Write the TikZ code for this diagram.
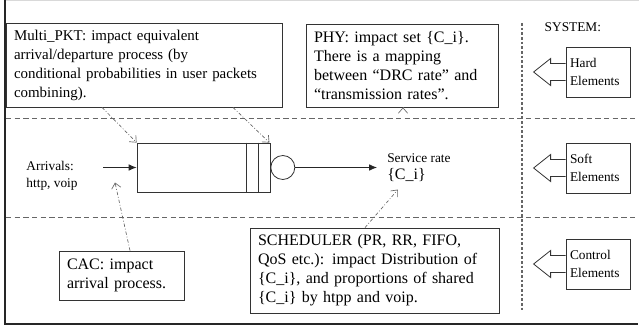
\documentclass[tikz,border=0pt]{standalone}
\usepackage{fontspec}
\setmainfont{Liberation Serif}
\usepackage{tikz}
\usetikzlibrary{arrows.meta, positioning, calc}
\hyphenpenalty=10000

\begin{document}
\begin{tikzpicture}[
    x=0.75pt, y=-0.75pt,
    note/.style={draw=black!80, line width=0.6pt, align=left, inner xsep=6pt,
                 text width=#1, font=\fontsize{12}{14.25}\selectfont},
    elem/.style={draw=black!80, line width=0.6pt, align=left, inner xsep=3pt,
                 text width=42pt, minimum height=37.5pt, font=\fontsize{10}{13}\selectfont},
    small/.style={font=\fontsize{10}{12.5}\selectfont, align=left},
    sep/.style={black!60, line width=0.6pt, dash pattern=on 4pt off 2.5pt},
    ctrl/.style={-{Straight Barb[length=4pt, width=7pt]}, black!60, line width=0.5pt,
                 dash pattern=on 2.5pt off 1.5pt on 0.6pt off 1.5pt},
    flow/.style={-{Latex[length=6pt, width=5pt]}, black!85, line width=0.6pt}
]
\useasboundingbox (0,0) rectangle (639,328);

% frame and layers
\draw[black!15, line width=0.5pt] (5,0.5) -- (639,0.5);
\draw[black!85, line width=0.8pt] (5,0) -- (5,324) -- (638,324);
\draw[sep] (6,118) -- (638,118);
\draw[sep] (6,217) -- (638,217);
\draw[black!60, line width=0.8pt, dash pattern=on 2pt off 1.5pt] (522,23) -- (522,310);

% impact notes
\node[note=195pt, minimum height=63pt, font=\fontsize{11.2}{14.25}\selectfont] (multi) at (144,65)
  {Multi\_PKT: impact equivalent\\arrival/departure process (by\\conditional probabilities in user packets\\combining).};
\node[note=132pt, minimum height=62.25pt] (phy) at (402,65.5)
  {PHY: impact set \{C\_i\}.\\There is a mapping\\between “DRC rate” and\\“transmission rates”.};
\node[note=81.75pt, minimum height=36.75pt] (cac) at (121.5,275.5)
  {CAC: impact\\arrival process.};
\node[note=174.75pt, minimum height=63.75pt] (sched) at (374.5,270.5)
  {SCHEDULER (PR, RR, FIFO,\\QoS etc.): impact Distribution of\\\{C\_i\}, and proportions of shared\\\{C\_i\} by htpp and voip.};

% queue
\node[draw=black!80, line width=0.6pt, minimum width=99.75pt, minimum height=36.75pt] (queue) at (203.5,167.5) {};
\draw[black!80, line width=0.6pt] ([xshift=-18pt]queue.north east) -- ([xshift=-18pt]queue.south east);
\draw[black!80, line width=0.6pt] ([xshift=-9pt]queue.north east) -- ([xshift=-9pt]queue.south east);
\node[draw=black!80, line width=0.6pt, circle, minimum size=18pt, inner sep=0pt, anchor=west] (server) at (queue.east) {};
\coordinate (in) at (103,167.5);
\node[small] (arr) at (52,176) {Arrivals:\\http, voip};
\node[small, anchor=west, inner xsep=7.5pt, inner ysep=6pt] (rate) at (377,167.5)
  {Service rate\\{\fontsize{12}{14}\selectfont\{C\_i\}}};

\draw[flow] (in) -- (queue.west);
\draw[flow] (server.east) -- (rate.west);

% impacts
\draw[ctrl] ($(multi.south)+(-42,0)$) -- (queue.north west);
\draw[ctrl] ($(multi.south)+(89,0)$) -- ([xshift=-0.75pt]queue.north east);
\draw[ctrl] ($(phy.south)+(1,0)$) -- ($(phy.south)+(1,0)$ |- rate.north);
\draw[ctrl] ($(sched.north)+(-9.5,0)$) -- ($(rate.south)+(-21,0)$);
\draw[ctrl] ($(cac.north)+(8.5,0)$) -- ($(in)+(12,15)$);

% system elements
\node[small, anchor=west] (sys) at (540,27) {SYSTEM:};
\node[elem] (hard) at (598,72) {Hard\\Elements};
\node[elem] (soft) at (598,168) {Soft\\Elements};
\node[elem] (ctl) at (598,264) {Control\\Elements};
\foreach \e in {hard,soft,ctl}
  \draw[black!80, line width=0.6pt] ($(\e.west)+(0,-8.5)$) -- ++(-15,0) -- ++(0,-5)
     -- ++(-17,13.5) -- ++(17,13.5) -- ++(0,-5) -- ++(15,0);
\end{tikzpicture}
\end{document}
